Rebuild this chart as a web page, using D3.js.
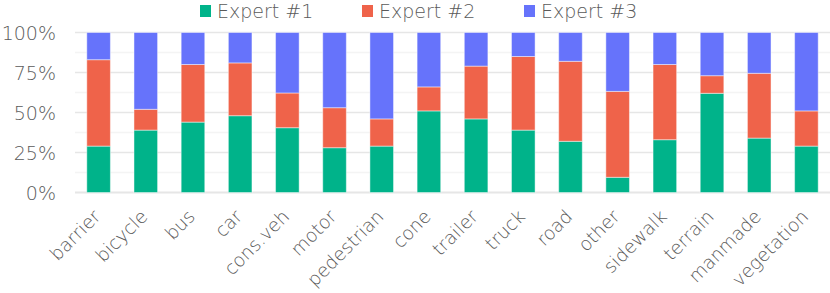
<!DOCTYPE html>
<html>
<head>
<meta charset="utf-8">
<script src="https://cdn.jsdelivr.net/npm/d3@7"></script>
<style>
  body { margin: 0; background: #fff; }
  text { font-family: "DejaVu Sans", sans-serif; font-weight: 200; fill: #5a5a5a; }
</style>
</head>
<body>
<script>
var categories = ["barrier", "bicycle", "bus", "car", "cons.veh", "motor", "pedestrian", "cone",
  "trailer", "truck", "road", "other", "sidewalk", "terrain", "manmade", "vegetation"];
var seriesNames = ["Expert #1", "Expert #2", "Expert #3"];
var expert1 = [29, 39, 44, 48, 40.5, 28, 29, 51, 46, 39, 32, 9.5, 33, 62, 34, 29];
var expert2 = [54, 13, 36, 33, 21.7, 25, 17, 15, 33, 46, 50, 53.7, 47, 11, 40.5, 22];
var expert3 = [17, 48, 20, 19, 37.8, 47, 54, 34, 21, 15, 18, 36.8, 20, 27, 25.5, 49];
var yTicks = [0, 25, 50, 75, 100];
var colors = ["#00b38a", "#ef634a", "#6673fb"];

var width = 830, height = 293,
    margin = {top: 32.5, right: 0, bottom: 100.5, left: 75};

var rows = categories.map(function(c, i) {
  return {cat: c, e1: expert1[i], e2: expert2[i], e3: expert3[i]};
});
var series = d3.stack().keys(["e1", "e2", "e3"])(rows);

var x = d3.scaleBand()
    .domain(categories)
    .range([margin.left, width - margin.right])
    .paddingInner(0.5)
    .paddingOuter(0.25);

var y = d3.scaleLinear()
    .domain([0, 100])
    .range([height - margin.bottom, margin.top]);

var svg = d3.select("body").append("svg")
    .attr("width", width)
    .attr("height", height);

// minor + major gridlines
svg.append("g").selectAll("line")
    .data(d3.range(0, 101, 12.5))
  .enter().append("line")
    .attr("x1", margin.left)
    .attr("x2", width)
    .attr("y1", d => y(d))
    .attr("y2", d => y(d))
    .attr("stroke", d => d % 25 === 0 ? "#e6e6e6" : "#f4f4f4")
    .attr("stroke-width", d => d === 0 ? 2 : 1.5);

var yAxis = svg.append("g")
    .attr("transform", "translate(" + (margin.left - 19) + ",0)")
    .call(d3.axisLeft(y).tickValues(yTicks).tickFormat(d => d + "%").tickSize(0));
yAxis.select(".domain").remove();
yAxis.selectAll("text")
    .style("font-size", "19px")
    .attr("dy", "0.36em")
    .attr("x", 0);

svg.append("g").selectAll("g")
    .data(series)
  .enter().append("g")
    .attr("fill", (d, i) => colors[i])
  .selectAll("rect")
    .data(d => d)
  .enter().append("rect")
    .attr("x", d => x(d.data.cat))
    .attr("width", x.bandwidth())
    .attr("y", d => y(d[1]))
    .attr("height", d => y(d[0]) - y(d[1]))
    .attr("stroke", "rgba(255,255,255,0.45)")
    .attr("stroke-width", 1);

var xAxis = svg.append("g")
    .attr("transform", "translate(0," + (height - margin.bottom) + ")")
    .call(d3.axisBottom(x).tickSize(0));
xAxis.select(".domain").remove();
xAxis.selectAll("text")
    .style("font-size", "18.5px")
    .attr("text-anchor", "end")
    .attr("dy", "0")
    .attr("transform", "translate(1,23) rotate(-45)");

var legend = svg.append("g").selectAll("g")
    .data(seriesNames)
  .enter().append("g")
    .attr("transform", (d, i) => "translate(" + (200 + i * 162) + ",0)");
legend.append("rect")
    .attr("y", 5)
    .attr("width", 11)
    .attr("height", 12)
    .attr("fill", (d, i) => colors[i]);
legend.append("text")
    .attr("x", 17)
    .attr("y", 17.5)
    .style("font-size", "19px")
    .text(d => d);
</script>
</body>
</html>
